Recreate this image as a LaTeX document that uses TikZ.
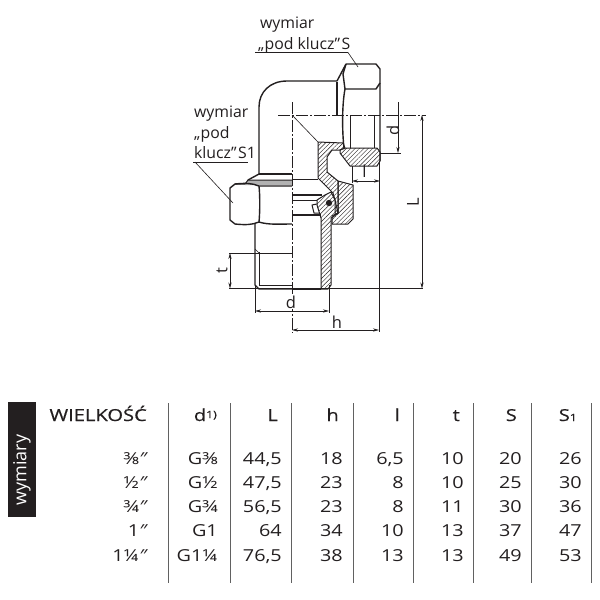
\documentclass[tikz,border=0pt]{standalone}
\usepackage{fontspec}
\setmainfont{Open Sans}
\newfontfamily\tabfont[FakeStretch=1.2]{Open Sans}
\newfontfamily\headfont[FakeStretch=1.22,FakeBold=0.6]{Open Sans}
\usetikzlibrary{arrows.meta,patterns.meta}
\definecolor{ink}{HTML}{231F20}
\newcommand\dq{{\itshape ″}}
\tikzset{
  ol/.style={line width=1.4pt,ink,line join=round},
  ml/.style={line width=1pt,ink,line join=round},
  tl/.style={line width=0.6pt,ink},
  ax/.style={line width=0.6pt,ink,dash pattern=on 12pt off 2pt on 2pt off 2pt},
  dim/.style={line width=0.6pt,ink,{Stealth[length=6pt,width=3.2pt]}-{Stealth[length=6pt,width=3.2pt]}},
  dimb/.style={line width=0.6pt,ink,-{Stealth[length=6pt,width=3.2pt]}},
  hat/.style={line width=1pt,ink,line join=round,pattern={Lines[angle=45,distance=3.1pt,line width=0.4pt]},pattern color=ink},
  lab/.style={font=\fontsize{15.8}{18}\selectfont,text=ink,inner sep=0pt,anchor=base west},
  dl/.style={font=\fontsize{16.5}{18}\selectfont,text=ink,inner sep=0pt},
  tc/.style={font=\tabfont\fontsize{16.5}{18}\selectfont,text=ink,inner sep=0pt,anchor=base east},
  th/.style={font=\headfont\fontsize{16.5}{18}\selectfont,text=ink,inner sep=0pt,anchor=base east},
  sep/.style={line width=1pt,black!62},
}
\begin{document}
\begin{tikzpicture}[x=1pt,y=-1pt]
\useasboundingbox (0,0) rectangle (600,600);
\fill[white] (0,0) rectangle (600,600);
% labels
\node[lab] (w1) at (260,28) {wymiar};
\node[lab] (p1) at (258,49) {„pod klucz”\kern1.5pt S};
\node[lab] (w2) at (194,117) {wymiar};
\node[lab] (p2) at (194,138) {„pod};
\node[lab] (k2) at (194,158) {klucz”\kern1.5pt S1};
% leaders
\draw[tl] (255,52.5) -- (348,52.5) -- (358,67);
\draw[tl] (193,162) -- (248,162);
\draw[tl] (195,162) -- (233,203);
% elbow body
\draw[ol] (337,81) -- (287,81) .. controls (270,81) and (259,92) .. (259,107) -- (259,174) -- (248,180);
\draw[ol] (337,81) -- (346,64);
\draw[ol] (337,82) -- (337,115);
\draw[ol] (259,174) -- (292,174);
% nut S
\draw[ol] (346,64) -- (376,64) -- (380,69) -- (380,161);
\draw[ol] (346,64) -- (343,74) -- (345,89) -- (376,89) -- (380,83);
\draw[ol] (345,89) .. controls (342,105) and (342,130) .. (344,148);
\draw[ml] (350,115) -- (350,148) (374,115) -- (374,148);
\draw[tl] (292,115) -- (318,142);
% sections
\draw[hat] (318,142) -- (343,143) -- (345,148) -- (340,150) -- (332,150) -- (327,157) -- (327,172) -- (338,181) -- (338,213) -- (335,215) -- (335,200) -- (333,193) -- (318,178) -- cycle;
\draw[hat] (345,148) -- (377,148) -- (380,152) -- (380,161) -- (377,166) -- (350,166) -- (340,153) -- (340,150) -- cycle;
\draw[hat] (338,181) -- (353,185) -- (353,219) -- (348,224) -- (332,224) -- (332,216) -- (338,213) -- cycle;
\draw[hat] (325,195) -- (331,192) -- (335,200) -- (338,213) -- (333,217) -- (331,218) -- (331,285) -- (328,289) -- (321,289) -- (321,218) -- (317,205) -- (317,200) -- cycle;
\fill[ink] (329,203) circle (3.2);
% interior of union
\draw[ml] (292,179) -- (318,179);
\draw[ol] (292,195) -- (322,195);
\draw[tl] (292,200) -- (317,200);
\draw[line width=1.8pt,ink] (292,215) -- (321,215);
\draw[ml] (317,204) -- (312,205) -- (314,213) -- (319,213);
% nut S1
\fill[black!30] (248,180) -- (292,180) -- (292,185) -- (245,185) -- cycle;
\draw[ml] (245,184) -- (248,180) -- (292,180);
\draw[ol] (245,184) -- (235,184) -- (230,188) -- (230,220) -- (235,224) .. controls (245,225) and (252,225) .. (259,222) .. controls (268,225) and (280,224) .. (292,224);
\draw[ol] (235,184) .. controls (245,183) and (252,183) .. (259,186) -- (292,186);
\draw[ol] (259,186) .. controls (260,195) and (260,212) .. (259,222);
% threaded end
\draw[ol] (255,224) -- (255,285) -- (259,289) -- (292,289);
\draw[tl] (259,252) -- (259,285) -- (292,285);
\draw[tl] (255,249) -- (259,253);
\draw[ml] (321,289) -- (292,289);
% axes
\draw[ax] (278,115) -- (426,115);
\draw[ax] (292,102) -- (292,333);
% dimensions
\draw[tl] (229,253) -- (292,253);
\draw[tl] (229,288.5) -- (423,288.5);
\draw[dim] (230,253) -- (230,288.5);
\node[dl,rotate=90] (tlab) at (222,271) {t};
\draw[dim] (422,115) -- (422,288.5);
\node[dl,rotate=90] (Llab) at (413,202) {L};
\draw[tl] (255,285) -- (255,313) (329,285) -- (329,313);
\draw[dim] (255,311) -- (329,311);
\node[dl,fill=white,inner sep=1pt] (dlab) at (291,302) {d};
\draw[tl] (379,161) -- (379,332);
\draw[dim] (292,330) -- (379,330);
\node[dl] (hlab) at (337,322) {h};
\draw[tl] (352,166) -- (352,183);
\draw[dim] (352,181) -- (380,181);
\node[dl] (llab) at (364.5,171) {l};
\draw[tl] (380,153) -- (401,153);
\draw[dimb] (398,102) -- (398,153);
\node[dl,rotate=90] (dlab2) at (393,130) {d};
% table
\fill[ink] (8,402) rectangle (36,517);
\node[font=\fontsize{18}{18}\selectfont,text=white,rotate=90,inner sep=0pt] (wym) at (22,470) {wymiary};
\foreach \n/\x in {a/168,b/230,c/291,d/353,e/413,f/473,g/531,h/591}
  \draw[sep] (\x,403) -- (\x,583);
\node[th] (hA) at (147,421) {WIELKOŚĆ};
\node[th] (hB) at (217,421) {d{\fontsize{10}{10}\selectfont\raisebox{3pt}{1)}}};
\node[th] (hC) at (278,421) {L};
\node[th] (hD) at (339,421) {h};
\node[th] (hE) at (400,421) {l};
\node[th] (hF) at (460,421) {t};
\node[th] (hG) at (517,421) {S};
\node[th] (hH) at (577,421) {S{\fontsize{10}{10}\selectfont 1}};
\foreach \yy/\va/\vb/\vc/\vd/\ve/\vf/\vg/\vh in {
  {464/⅜\dq/G⅜/44,5/18/6,5/10/20/26},
  {488/½\dq/G½/47,5/23/8/10/25/30},
  {512/¾\dq/G¾/56,5/23/8/11/30/36},
  {536/1\dq/G1/64/34/10/13/37/47},
  {561/1¼\dq/G1¼/76,5/38/13/13/49/53}}{
  \node[tc] (ra\yy) at (147,\yy) {\va};
  \node[tc] (rb\yy) at (218,\yy) {\vb};
  \node[tc] (rc\yy) at (282,\yy) {\vc};
  \node[tc] (rd\yy) at (343,\yy) {\vd};
  \node[tc] (re\yy) at (404,\yy) {\ve};
  \node[tc] (rf\yy) at (464,\yy) {\vf};
  \node[tc] (rg\yy) at (522,\yy) {\vg};
  \node[tc] (rh\yy) at (582,\yy) {\vh};
}
\end{tikzpicture}
\end{document}
